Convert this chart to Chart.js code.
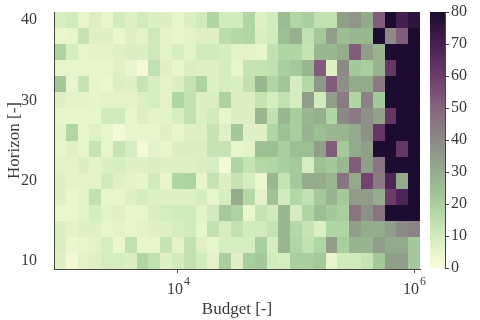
<!DOCTYPE html>
<html>
<head>
<meta charset="utf-8">
<script src="https://cdn.jsdelivr.net/npm/chart.js@4.4.1/dist/chart.umd.min.js"></script>
<style>
  html, body { margin: 0; padding: 0; background: #fff; }
  #wrap { position: relative; width: 480px; height: 320px; }
  #heat { position: absolute; left: 0; top: 0; }
  #bar { position: absolute; left: 420px; top: 0; }
</style>
</head>
<body>
<div id="wrap">
  <canvas id="heat" width="480" height="320"></canvas>
  <canvas id="bar" width="60" height="320"></canvas>
</div>
<script>
// Budget values (10 per decade) and horizons
const budget = [1000, 1259, 1585, 1995, 2512, 3162, 3981, 5012, 6310, 7943,
    10000, 12589, 15849, 19953, 25119, 31623, 39811, 50119, 63096, 79433,
    100000, 125893, 158489, 199526, 251189, 316228, 398107, 501187, 630957, 794328,
    1000000];
const horizon = [10, 12, 14, 16, 18, 20, 22, 24, 26, 28, 30, 32, 34, 36, 38, 40];

// one row per horizon, one value per budget
const row10 = [7,2,6,7,9,9,8,18,14,7,10,14,10,6,20,7,20,22,10,9,20,20,22,5,10,10,13,22,34,34,22];
const row12 = [8,4,5,6,9,4,14,5,5,13,6,14,7,5,9,9,9,20,9,27,18,14,18,34,20,28,28,34,31,31,22];
const row14 = [8,6,7,7,5,6,5,6,7,7,9,10,5,14,9,14,10,10,13,27,17,13,8,18,18,34,30,30,34,40,42];
const row16 = [4,4,6,9,6,7,5,5,8,9,10,10,6,10,22,19,4,13,10,27,9,18,25,22,20,46,38,46,80,80,80];
const row18 = [7,4,6,14,5,5,7,9,7,7,7,7,9,5,9,30,17,6,24,10,17,14,22,28,22,35,35,30,60,68,80];
const row20 = [7,6,6,6,10,7,6,5,10,5,18,19,5,13,8,13,9,4,27,13,22,30,30,27,46,31,58,44,68,31,80];
const row22 = [6,6,8,6,8,9,7,7,8,7,7,7,8,9,2,18,13,17,18,20,22,9,24,22,27,52,34,46,80,80,80];
const row24 = [5,7,5,13,5,13,9,2,6,5,8,8,8,13,13,5,6,25,25,20,25,25,34,52,22,31,34,80,80,62,80];
const row26 = [6,18,5,7,5,2,5,5,5,7,5,7,7,13,7,22,7,7,18,24,20,28,25,27,27,31,38,62,80,80,80];
const row28 = [5,5,5,5,10,10,5,8,6,6,9,14,8,10,5,8,8,27,14,27,20,27,29,18,40,44,38,33,62,80,80];
const row30 = [7,6,6,5,6,6,6,8,9,6,18,14,8,8,19,8,8,13,9,14,9,34,10,34,44,18,42,22,80,80,80];
const row32 = [22,5,13,5,4,8,7,13,9,6,8,13,19,7,9,8,14,27,18,23,9,17,36,52,38,31,31,44,80,80,80];
const row34 = [5,5,5,5,5,7,5,2,14,7,5,8,7,7,9,5,13,13,14,20,22,27,52,7,40,22,20,28,62,80,80];
const row36 = [19,9,5,6,6,7,8,8,11,6,9,6,10,10,9,6,6,5,14,18,18,13,27,27,30,52,34,28,80,80,80];
const row38 = [4,5,13,7,7,4,7,6,11,6,5,6,7,7,15,17,18,8,10,25,29,14,22,34,25,27,27,80,40,52,80];
const row40 = [9,10,5,8,5,10,7,10,8,8,5,8,10,18,10,10,18,7,10,26,18,20,14,14,34,37,31,52,80,70,76];
const rows = [row10, row12, row14, row16, row18, row20, row22, row24,
              row26, row28, row30, row32, row34, row36, row38, row40];

const xTicks = [1e4, 1e6];
const yTicks = [10, 20, 30, 40];
const cbTicks = [0, 10, 20, 30, 40, 50, 60, 70, 80];

// colour map stops (value -> colour)
const cmapAt = [0, 3, 6, 10, 18, 25, 32, 40, 50, 60, 70, 80];
const cmapHex = ['#fbfcdc', '#eef8cf', '#e3f3c7', '#d2ebbc', '#b0d6a3', '#9cbf93', '#93a68b',
                 '#8c8a86', '#87657f', '#6b3c69', '#461f51', '#1c0c30'];

const FONT = '"Liberation Serif", "DejaVu Serif", serif';
const TEXT = '#3a3a3a';
const AXIS = '#444';

function hexToRgb(h) {
    return [1, 3, 5].map(i => parseInt(h.slice(i, i + 2), 16));
}

function colorFor(v) {
    const n = cmapAt.length;
    if (v <= cmapAt[0]) return cmapHex[0];
    if (v >= cmapAt[n - 1]) return cmapHex[n - 1];
    let k = 0;
    while (v > cmapAt[k + 1]) k++;
    const t = (v - cmapAt[k]) / (cmapAt[k + 1] - cmapAt[k]);
    const a = hexToRgb(cmapHex[k]), b = hexToRgb(cmapHex[k + 1]);
    const c = a.map((x, i) => Math.round(x + (b[i] - x) * t));
    return `rgb(${c[0]},${c[1]},${c[2]})`;
}

// cell edges halfway between neighbours (geometric for log axis)
function edges(arr, log) {
    const f = log ? v => Math.log10(v) : v => v;
    const g = log ? v => Math.pow(10, v) : v => v;
    const a = arr.map(f);
    const out = [a[0] - (a[1] - a[0]) / 2];
    for (let i = 0; i < a.length - 1; i++) out.push((a[i] + a[i + 1]) / 2);
    out.push(a[a.length - 1] + (a[a.length - 1] - a[a.length - 2]) / 2);
    return out.map(g);
}

const xEdges = edges(budget, true);
const yEdges = edges(horizon, false);

// no extra room for the edge labels, the layout padding is enough
function noPad(s) {
    s.paddingTop = 0;
    s.paddingBottom = 0;
}

const heatPlugin = {
    id: 'heat',
    beforeDraw(chart) {
        const {ctx, scales: {x, y}} = chart;
        ctx.save();
        rows.forEach((row, i) => {
            row.forEach((v, j) => {
                const x0 = Math.round(x.getPixelForValue(xEdges[j]));
                const x1 = Math.round(x.getPixelForValue(xEdges[j + 1]));
                const y0 = Math.round(y.getPixelForValue(yEdges[i + 1]));
                const y1 = Math.round(y.getPixelForValue(yEdges[i]));
                ctx.fillStyle = colorFor(v);
                ctx.fillRect(x0, y0, x1 - x0, y1 - y0);
            });
        });
        ctx.restore();
    }
};

// 10^n labels with a raised exponent
const expLabels = {
    id: 'expLabels',
    afterDraw(chart) {
        const {ctx, scales: {x}} = chart;
        ctx.save();
        ctx.fillStyle = TEXT;
        ctx.textBaseline = 'alphabetic';
        ctx.textAlign = 'left';
        xTicks.forEach(t => {
            const exp = String(Math.round(Math.log10(t)));
            ctx.font = '16px ' + FONT;
            const wb = ctx.measureText('10').width;
            ctx.font = '12px ' + FONT;
            const we = ctx.measureText(exp).width;
            const left = x.getPixelForValue(t) - (wb + we) / 2;
            ctx.font = '16px ' + FONT;
            ctx.fillText('10', left, 294);
            ctx.font = '12px ' + FONT;
            ctx.fillText(exp, left + wb + 1, 285);
        });
        ctx.restore();
    }
};

new Chart(document.getElementById('heat'), {
    type: 'scatter',
    data: { datasets: [] },
    options: {
        responsive: false,
        animation: false,
        devicePixelRatio: 1,
        layout: { padding: { left: 0, top: 12, right: 60, bottom: 0 } },
        plugins: { legend: { display: false }, tooltip: { enabled: false } },
        scales: {
            x: {
                type: 'logarithmic',
                min: xEdges[0],
                max: xEdges[xEdges.length - 1],
                afterBuildTicks: s => { s.ticks = xTicks.map(v => ({ value: v })); },
                afterFit: s => { s.height = 51; s.paddingLeft = 0; s.paddingRight = 0; },
                ticks: { display: false },
                grid: { drawOnChartArea: false, drawTicks: true, tickLength: 4, color: AXIS },
                border: { display: true, color: AXIS, width: 1 },
                title: { display: true, text: 'Budget [-]', color: TEXT,
                         font: { family: FONT, size: 17 }, padding: { top: 1, bottom: 0 } }
            },
            y: {
                type: 'linear',
                min: yEdges[0],
                max: yEdges[yEdges.length - 1],
                afterBuildTicks: s => { s.ticks = yTicks.map(v => ({ value: v })); },
                afterFit: s => { s.width = 54; noPad(s); },
                ticks: { color: TEXT, font: { family: FONT, size: 16 }, padding: 9 },
                grid: { display: false },
                border: { display: true, color: AXIS, width: 1 },
                title: { display: true, text: 'Horizon [-]', color: TEXT,
                         font: { family: FONT, size: 17 }, padding: { top: 4, bottom: 0 } }
            }
        }
    },
    plugins: [heatPlugin, expLabels]
});

// colour bar
const gradientPlugin = {
    id: 'gradient',
    beforeDraw(chart) {
        const {ctx, chartArea: a, scales: {y}} = chart;
        const g = ctx.createLinearGradient(0, y.getPixelForValue(0), 0, y.getPixelForValue(80));
        cmapAt.forEach((v, i) => g.addColorStop(v / 80, cmapHex[i]));
        ctx.save();
        ctx.fillStyle = g;
        ctx.fillRect(a.left, a.top, a.right - a.left, a.bottom - a.top);
        ctx.restore();
    }
};

new Chart(document.getElementById('bar'), {
    type: 'bar',
    data: { labels: [''], datasets: [] },
    options: {
        responsive: false,
        animation: false,
        devicePixelRatio: 1,
        layout: { padding: { left: 10, top: 12, right: 0, bottom: 52 } },
        plugins: { legend: { display: false }, tooltip: { enabled: false } },
        scales: {
            x: { display: false },
            y: {
                position: 'right',
                min: 0,
                max: 80,
                afterBuildTicks: s => { s.ticks = cbTicks.map(v => ({ value: v })); },
                afterFit: s => { s.width = 35; noPad(s); },
                ticks: { color: TEXT, font: { family: FONT, size: 16 }, padding: 2 },
                grid: { drawOnChartArea: false, drawTicks: true, tickLength: 4, color: AXIS },
                border: { display: true, color: AXIS, width: 1 }
            }
        }
    },
    plugins: [gradientPlugin]
});
</script>
</body>
</html>
